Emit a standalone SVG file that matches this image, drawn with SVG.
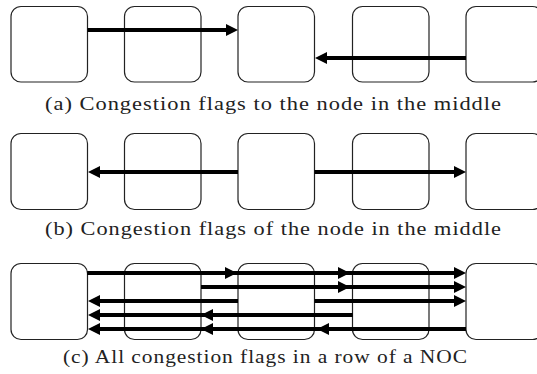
<svg xmlns="http://www.w3.org/2000/svg" width="537" height="374" viewBox="0 0 537 374">
  <style>
    .node { fill: #ffffff; stroke: #222222; stroke-width: 1.2; }
    .flag { fill: none; stroke: #000000; stroke-width: 4; stroke-linecap: butt; marker-end: url(#head); }
    .caption { font-family: "Liberation Serif", "DejaVu Serif", serif; font-size: 18px; letter-spacing: 0.8px; fill: #222222; }
  </style>
  <defs>
    <marker id="head" viewBox="0 0 12 12" refX="2" refY="6" markerWidth="12" markerHeight="12" markerUnits="userSpaceOnUse" orient="auto">
      <path d="M0,0 L12,6 L0,12 z" fill="#000000"/>
    </marker>
  </defs>

  <!-- (a) flags sent to the middle node -->
  <g id="a-n1"><rect class="node" x="11" y="6.5" width="76.5" height="75.5" rx="10"/></g>
  <g id="a-n2"><rect class="node" x="124.5" y="6.5" width="76.5" height="75.5" rx="10"/></g>
  <g id="a-n3"><rect class="node" x="238" y="6.5" width="76.5" height="75.5" rx="10"/></g>
  <g id="a-n4"><rect class="node" x="352.5" y="6.5" width="76.5" height="75.5" rx="10"/></g>
  <g id="a-n5"><rect class="node" x="466" y="6.5" width="76.5" height="75.5" rx="10"/></g>
  <g id="a-edges">
    <path class="flag" d="M87.5,30 H228"/>
    <path class="flag" d="M466,58 H325"/>
  </g>
  <text class="caption" x="45" y="110" textLength="457" lengthAdjust="spacingAndGlyphs">(a) Congestion flags to the node in the middle</text>

  <!-- (b) flags sent by the middle node -->
  <g id="b-n1"><rect class="node" x="11" y="133.5" width="76.5" height="76" rx="10"/></g>
  <g id="b-n2"><rect class="node" x="124.5" y="133.5" width="76.5" height="76" rx="10"/></g>
  <g id="b-n3"><rect class="node" x="238" y="133.5" width="76.5" height="76" rx="10"/></g>
  <g id="b-n4"><rect class="node" x="352.5" y="133.5" width="76.5" height="76" rx="10"/></g>
  <g id="b-n5"><rect class="node" x="466" y="133.5" width="76.5" height="76" rx="10"/></g>
  <g id="b-edges">
    <path class="flag" d="M238,172 H98"/>
    <path class="flag" d="M314.5,172 H456"/>
  </g>
  <text class="caption" x="45" y="235" textLength="457" lengthAdjust="spacingAndGlyphs">(b) Congestion flags of the node in the middle</text>

  <!-- (c) every flag in one row -->
  <g id="c-n1"><rect class="node" x="11" y="263.5" width="76.5" height="76" rx="10"/></g>
  <g id="c-n2"><rect class="node" x="124.5" y="263.5" width="76.5" height="76" rx="10"/></g>
  <g id="c-n3"><rect class="node" x="238" y="263.5" width="76.5" height="76" rx="10"/></g>
  <g id="c-n4"><rect class="node" x="352.5" y="263.5" width="76.5" height="76" rx="10"/></g>
  <g id="c-n5"><rect class="node" x="466" y="263.5" width="76.5" height="76" rx="10"/></g>
  <g id="c-edges">
    <!-- from node 1 -->
    <path class="flag" d="M87.5,273 H227"/>
    <path class="flag" d="M87.5,273 H340"/>
    <path class="flag" d="M87.5,273 H456"/>
    <!-- from node 2 -->
    <path class="flag" d="M201,287 H340"/>
    <path class="flag" d="M201,287 H456"/>
    <!-- from node 3 -->
    <path class="flag" d="M238,301 H98"/>
    <path class="flag" d="M314.5,301 H456"/>
    <!-- from node 4 -->
    <path class="flag" d="M352.5,315 H211"/>
    <path class="flag" d="M352.5,315 H98"/>
    <!-- from node 5 -->
    <path class="flag" d="M466,329 H327"/>
    <path class="flag" d="M466,329 H211"/>
    <path class="flag" d="M466,329 H98"/>
  </g>
  <text class="caption" x="63" y="363" textLength="405" lengthAdjust="spacingAndGlyphs">(c) All congestion flags in a row of a NOC</text>
</svg>
